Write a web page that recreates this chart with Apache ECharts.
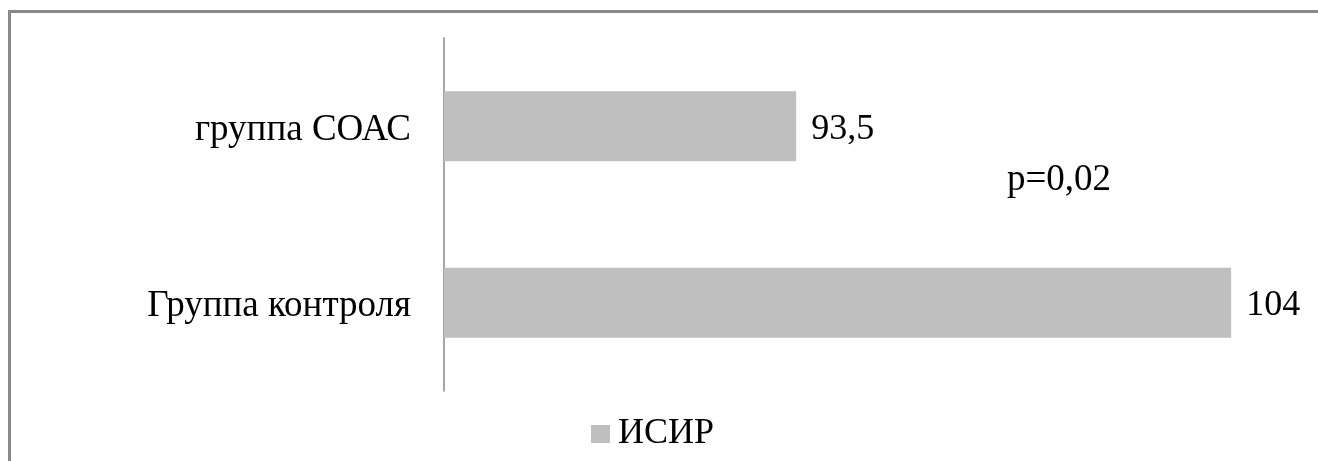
<!DOCTYPE html>
<html>
<head>
<meta charset="utf-8">
<script src="https://cdn.jsdelivr.net/npm/echarts@6/dist/echarts.min.js"></script>
<style>
  html, body { margin: 0; padding: 0; background: #fff; }
  #main { width: 1318px; height: 461px; }
</style>
</head>
<body>
<div id="main"></div>
<script>
var categories = ['группа СОАС', 'Группа контроля'];
var isirValues = [93.5, 104];
var seriesName = 'ИСИР';
var pNote = 'p=0,02';

var chart = echarts.init(document.getElementById('main'));
var serif = '"Liberation Serif", "DejaVu Serif", serif';

var option = {
  animation: false,
  backgroundColor: '#fff',
  grid: { left: 444, right: 4, top: 38, bottom: 70 },
  legend: {
    data: [seriesName],
    left: 591,
    top: 416,
    padding: 0,
    itemWidth: 19,
    itemHeight: 18,
    icon: 'rect',
    textStyle: { fontFamily: serif, fontSize: 36, color: '#000', padding: [0, 0, 0, 3] }
  },
  xAxis: {
    type: 'value',
    min: 85,
    max: 106,
    show: false
  },
  yAxis: {
    type: 'category',
    inverse: true,
    data: categories,
    axisLine: { lineStyle: { color: '#898989', width: 1.5 } },
    axisTick: { show: false },
    axisLabel: {
      margin: 33,
      formatter: '{a|{value}}',
      rich: {
        a: { fontFamily: serif, fontSize: 37, color: '#000', padding: [8, 0, 0, 0] }
      }
    }
  },
  series: [{
    name: seriesName,
    type: 'bar',
    barWidth: 70,
    data: isirValues,
    itemStyle: { color: '#bfbfbf' },
    label: {
      show: true,
      position: 'right',
      distance: 15,
      offset: [0, 3],
      fontFamily: serif,
      fontSize: 36,
      color: '#000',
      formatter: function (p) { return String(p.value).replace('.', ','); }
    }
  }],
  graphic: [
    {
      type: 'rect',
      shape: { x: 9.5, y: 11.5, width: 1400, height: 500 },
      style: { fill: 'none', stroke: '#898989', lineWidth: 3 },
      silent: true
    },
    {
      type: 'text',
      left: 1007,
      top: 162,
      style: { text: pNote, fontFamily: serif, fontSize: 37, fill: '#000' }
    }
  ]
};

chart.setOption(option);
</script>
</body>
</html>
